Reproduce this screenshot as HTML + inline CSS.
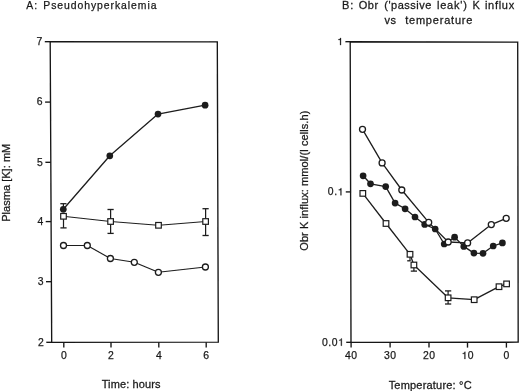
<!DOCTYPE html>
<html><head><meta charset="utf-8"><title>Pseudohyperkalemia</title><style>
html,body{margin:0;padding:0;background:#fff;}
svg{display:block;font-family:"Liberation Sans",sans-serif;}
text{fill:#1a1a1a;white-space:pre;stroke:#1a1a1a;stroke-width:0.25px;}
.g{fill:#1a1a1a;stroke:#1a1a1a;stroke-width:0.25px;}
</style></head><body>
<svg width="520" height="392" viewBox="0 0 520 392">
<defs><filter id="bl" x="0" y="0" width="1" height="1"><feGaussianBlur stdDeviation="0.3"/></filter><filter id="bt" x="0" y="0" width="1" height="1"><feGaussianBlur stdDeviation="0.42"/></filter></defs>
<rect width="520" height="392" fill="#fff"/>
<g filter="url(#bl)">
<polygon points="50.2,41.7 217.3,41.9 218.3,342.2 51.7,342.3" fill="none" stroke="#161616" stroke-width="1.35"/>
<line x1="44.8" y1="41.7" x2="50.2" y2="41.7" stroke="#161616" stroke-width="1.35"/>
<line x1="45.1" y1="102.1" x2="50.5" y2="102.1" stroke="#161616" stroke-width="1.35"/>
<line x1="45.4" y1="162.3" x2="50.8" y2="162.3" stroke="#161616" stroke-width="1.35"/>
<line x1="45.7" y1="221.6" x2="51.1" y2="221.6" stroke="#161616" stroke-width="1.35"/>
<line x1="46" y1="281.7" x2="51.4" y2="281.7" stroke="#161616" stroke-width="1.35"/>
<line x1="46.3" y1="342.3" x2="51.7" y2="342.3" stroke="#161616" stroke-width="1.35"/>
<line x1="63.8" y1="342.3" x2="63.8" y2="347.6" stroke="#161616" stroke-width="1.35"/>
<line x1="111" y1="342.3" x2="111" y2="347.6" stroke="#161616" stroke-width="1.35"/>
<line x1="158.8" y1="342.3" x2="158.8" y2="347.6" stroke="#161616" stroke-width="1.35"/>
<line x1="206.2" y1="342.3" x2="206.2" y2="347.6" stroke="#161616" stroke-width="1.35"/>
<polyline points="63.3,209.3 109.8,155.8 158,114.1 205.1,105.2" fill="none" stroke="#1c1c1c" stroke-width="1.3" stroke-linejoin="round"/>
<polyline points="63.5,216.3 110.6,221.5 158.5,225.3 205.6,221.5" fill="none" stroke="#1c1c1c" stroke-width="1.0" stroke-linejoin="round"/>
<polyline points="63.5,245.5 87.3,245.5 110.4,258.5 134.3,262.3 158.4,272.3 205.4,267" fill="none" stroke="#1c1c1c" stroke-width="1.12" stroke-linejoin="round"/>
<line x1="63.4" y1="209.3" x2="63.4" y2="203.7" stroke="#1c1c1c" stroke-width="1.2"/><line x1="60.3" y1="203.7" x2="66.5" y2="203.7" stroke="#1c1c1c" stroke-width="1.3"/>
<line x1="63.5" y1="216.3" x2="63.5" y2="227.9" stroke="#1c1c1c" stroke-width="1.2"/><line x1="60.4" y1="227.9" x2="66.6" y2="227.9" stroke="#1c1c1c" stroke-width="1.3"/>
<line x1="110.6" y1="221.5" x2="110.6" y2="209.5" stroke="#1c1c1c" stroke-width="1.2"/><line x1="107.5" y1="209.5" x2="113.7" y2="209.5" stroke="#1c1c1c" stroke-width="1.3"/>
<line x1="110.6" y1="221.5" x2="110.6" y2="233.4" stroke="#1c1c1c" stroke-width="1.2"/><line x1="107.5" y1="233.4" x2="113.7" y2="233.4" stroke="#1c1c1c" stroke-width="1.3"/>
<line x1="205.6" y1="221.5" x2="205.6" y2="208.7" stroke="#1c1c1c" stroke-width="1.2"/><line x1="202.5" y1="208.7" x2="208.7" y2="208.7" stroke="#1c1c1c" stroke-width="1.3"/>
<line x1="205.6" y1="221.5" x2="205.6" y2="235.5" stroke="#1c1c1c" stroke-width="1.2"/><line x1="202.5" y1="235.5" x2="208.7" y2="235.5" stroke="#1c1c1c" stroke-width="1.3"/>
<circle cx="63.3" cy="209.3" r="3.35" fill="#1c1c1c"/><circle cx="109.8" cy="155.8" r="3.35" fill="#1c1c1c"/><circle cx="158" cy="114.1" r="3.35" fill="#1c1c1c"/><circle cx="205.1" cy="105.2" r="3.35" fill="#1c1c1c"/>
<rect x="60.7" y="213.5" width="5.6" height="5.6" fill="#fff" stroke="#1c1c1c" stroke-width="1.2"/><rect x="107.8" y="218.7" width="5.6" height="5.6" fill="#fff" stroke="#1c1c1c" stroke-width="1.2"/><rect x="155.7" y="222.5" width="5.6" height="5.6" fill="#fff" stroke="#1c1c1c" stroke-width="1.2"/><rect x="202.8" y="218.7" width="5.6" height="5.6" fill="#fff" stroke="#1c1c1c" stroke-width="1.2"/>
<circle cx="63.5" cy="245.5" r="3" fill="#fff" stroke="#1c1c1c" stroke-width="1.3"/><circle cx="87.3" cy="245.5" r="3" fill="#fff" stroke="#1c1c1c" stroke-width="1.3"/><circle cx="110.4" cy="258.5" r="3" fill="#fff" stroke="#1c1c1c" stroke-width="1.3"/><circle cx="134.3" cy="262.3" r="3" fill="#fff" stroke="#1c1c1c" stroke-width="1.3"/><circle cx="158.4" cy="272.3" r="3" fill="#fff" stroke="#1c1c1c" stroke-width="1.3"/><circle cx="205.4" cy="267" r="3" fill="#fff" stroke="#1c1c1c" stroke-width="1.3"/>
<polygon points="350.2,41.7 517.7,42.1 518.2,342.2 351,342.3" fill="none" stroke="#161616" stroke-width="1.35"/>
<line x1="345.4" y1="41.7" x2="350.2" y2="41.7" stroke="#161616" stroke-width="1.35"/>
<line x1="345.8" y1="191.9" x2="350.6" y2="191.9" stroke="#161616" stroke-width="1.35"/>
<line x1="346.2" y1="342.3" x2="351" y2="342.3" stroke="#161616" stroke-width="1.35"/>
<line x1="351.1" y1="342.3" x2="351.1" y2="347.6" stroke="#161616" stroke-width="1.35"/>
<line x1="390.1" y1="342.3" x2="390.1" y2="347.6" stroke="#161616" stroke-width="1.35"/>
<line x1="429" y1="342.3" x2="429" y2="347.6" stroke="#161616" stroke-width="1.35"/>
<line x1="467.5" y1="342.3" x2="467.5" y2="347.6" stroke="#161616" stroke-width="1.35"/>
<line x1="506.4" y1="342.3" x2="506.4" y2="347.6" stroke="#161616" stroke-width="1.35"/>
<polyline points="362.5,129.3 382.1,162.9 401.8,190 428.7,222.4 448.2,242 467.6,242.9 491.3,224.6 506.2,218.3" fill="none" stroke="#1c1c1c" stroke-width="1.3" stroke-linejoin="round"/>
<polyline points="363.1,175.8 370.5,183.8 385.7,186.6 395.1,203.1 405.1,208.8 415,217 424.7,224.4 435.2,229 444.2,244 454.6,237.2 463.8,246.4 473.9,253.1 483,253.3 493.2,246 502.4,242.9" fill="none" stroke="#1c1c1c" stroke-width="1.3" stroke-linejoin="round"/>
<polyline points="362.8,193.4 386,223.5 410,254.3 413.9,265 448.1,297.8 474.2,299.7 499,286.7 506.6,283.9" fill="none" stroke="#1c1c1c" stroke-width="1.3" stroke-linejoin="round"/>
<line x1="410" y1="254.3" x2="410" y2="260.8" stroke="#1c1c1c" stroke-width="1.2"/><line x1="407.2" y1="260.8" x2="410.6" y2="260.8" stroke="#1c1c1c" stroke-width="1.3"/>
<line x1="413.9" y1="265" x2="413.9" y2="271.1" stroke="#1c1c1c" stroke-width="1.2"/><line x1="410.8" y1="271.1" x2="417" y2="271.1" stroke="#1c1c1c" stroke-width="1.3"/>
<line x1="448.1" y1="297.8" x2="448.1" y2="290.9" stroke="#1c1c1c" stroke-width="1.2"/><line x1="445" y1="290.9" x2="451.2" y2="290.9" stroke="#1c1c1c" stroke-width="1.3"/>
<line x1="448.1" y1="297.8" x2="448.1" y2="304" stroke="#1c1c1c" stroke-width="1.2"/><line x1="445" y1="304" x2="451.2" y2="304" stroke="#1c1c1c" stroke-width="1.3"/>
<circle cx="363.1" cy="175.8" r="3.35" fill="#1c1c1c"/><circle cx="370.5" cy="183.8" r="3.35" fill="#1c1c1c"/><circle cx="385.7" cy="186.6" r="3.35" fill="#1c1c1c"/><circle cx="395.1" cy="203.1" r="3.35" fill="#1c1c1c"/><circle cx="405.1" cy="208.8" r="3.35" fill="#1c1c1c"/><circle cx="415" cy="217" r="3.35" fill="#1c1c1c"/><circle cx="424.7" cy="224.4" r="3.35" fill="#1c1c1c"/><circle cx="435.2" cy="229" r="3.35" fill="#1c1c1c"/><circle cx="444.2" cy="244" r="3.35" fill="#1c1c1c"/><circle cx="454.6" cy="237.2" r="3.35" fill="#1c1c1c"/><circle cx="463.8" cy="246.4" r="3.35" fill="#1c1c1c"/><circle cx="473.9" cy="253.1" r="3.35" fill="#1c1c1c"/><circle cx="483" cy="253.3" r="3.35" fill="#1c1c1c"/><circle cx="493.2" cy="246" r="3.35" fill="#1c1c1c"/><circle cx="502.4" cy="242.9" r="3.35" fill="#1c1c1c"/>
<circle cx="362.5" cy="129.3" r="3" fill="#fff" stroke="#1c1c1c" stroke-width="1.3"/><circle cx="382.1" cy="162.9" r="3" fill="#fff" stroke="#1c1c1c" stroke-width="1.3"/><circle cx="401.8" cy="190" r="3" fill="#fff" stroke="#1c1c1c" stroke-width="1.3"/><circle cx="428.7" cy="222.4" r="3" fill="#fff" stroke="#1c1c1c" stroke-width="1.3"/><circle cx="448.2" cy="242" r="3" fill="#fff" stroke="#1c1c1c" stroke-width="1.3"/><circle cx="467.6" cy="242.9" r="3" fill="#fff" stroke="#1c1c1c" stroke-width="1.3"/><circle cx="491.3" cy="224.6" r="3" fill="#fff" stroke="#1c1c1c" stroke-width="1.3"/><circle cx="506.2" cy="218.3" r="3" fill="#fff" stroke="#1c1c1c" stroke-width="1.3"/>
<rect x="360" y="190.6" width="5.6" height="5.6" fill="#fff" stroke="#1c1c1c" stroke-width="1.2"/><rect x="383.2" y="220.7" width="5.6" height="5.6" fill="#fff" stroke="#1c1c1c" stroke-width="1.2"/><rect x="407.2" y="251.5" width="5.6" height="5.6" fill="#fff" stroke="#1c1c1c" stroke-width="1.2"/><rect x="411.1" y="262.2" width="5.6" height="5.6" fill="#fff" stroke="#1c1c1c" stroke-width="1.2"/><rect x="445.3" y="295" width="5.6" height="5.6" fill="#fff" stroke="#1c1c1c" stroke-width="1.2"/><rect x="471.4" y="296.9" width="5.6" height="5.6" fill="#fff" stroke="#1c1c1c" stroke-width="1.2"/><rect x="496.2" y="283.9" width="5.6" height="5.6" fill="#fff" stroke="#1c1c1c" stroke-width="1.2"/><rect x="503.8" y="281.1" width="5.6" height="5.6" fill="#fff" stroke="#1c1c1c" stroke-width="1.2"/>
</g>
<g filter="url(#bt)">
<text x="36.52" y="45" font-size="10.4">7</text>
<text x="36.82" y="105.4" font-size="10.4">6</text>
<text x="37.12" y="165.6" font-size="10.4">5</text>
<text x="37.41" y="224.9" font-size="10.4">4</text>
<text x="37.71" y="285" font-size="10.4">3</text>
<text x="38.02" y="345.6" font-size="10.4">2</text>
<text x="60.91" y="358.7" font-size="10.4">0</text>
<text x="108.11" y="358.7" font-size="10.4">2</text>
<text x="155.91" y="358.7" font-size="10.4">4</text>
<text x="203.31" y="358.7" font-size="10.4">6</text>
<text font-size="10.4" letter-spacing="1.000" transform="translate(26.2 9) scale(1.0 1)">A:</text>
<text font-size="10.4" letter-spacing="0.950" transform="translate(43.25 9) scale(1.0 1)">Pseudohyperkalemia</text>
<text font-size="10.4" letter-spacing="0.106" transform="translate(101.64 388.3) scale(1.06 1)">Time: hours</text>
<text font-size="10.4" letter-spacing="0.025" transform="translate(9.7 221.79) rotate(-90) scale(1.06 1)">Plasma [K]: mM</text>
<polygon class="g" points="340.11,45.1 341,45.1 341,37.94 340.29,37.94 340.16,38.35 339.86,38.9 339.25,39.21 338.39,39.36 338.39,39.97 340.11,39.97"/>
<text x="327.84" y="195.3" font-size="10.4">0</text><text x="334.13" y="195.3" font-size="10.4">.</text><polygon class="g" points="340.51,195.3 341.4,195.3 341.4,188.14 340.69,188.14 340.56,188.55 340.26,189.1 339.65,189.41 338.79,189.56 338.79,190.17 340.51,190.17"/>
<text x="321.96" y="345.7" font-size="10.4">0</text><text x="328.24" y="345.7" font-size="10.4">.</text><text x="331.63" y="345.7" font-size="10.4">0</text><polygon class="g" points="340.91,345.7 341.8,345.7 341.8,338.54 341.09,338.54 340.96,338.95 340.66,339.5 340.05,339.81 339.19,339.96 339.19,340.57 340.91,340.57"/>
<text x="345.07" y="359" font-size="10.4">4</text><text x="351.35" y="359" font-size="10.4">0</text>
<text x="384.07" y="359" font-size="10.4">3</text><text x="390.35" y="359" font-size="10.4">0</text>
<text x="422.97" y="359" font-size="10.4">2</text><text x="429.25" y="359" font-size="10.4">0</text>
<polygon class="g" points="464.46,359 465.35,359 465.35,351.84 464.64,351.84 464.51,352.25 464.21,352.8 463.6,353.11 462.74,353.26 462.74,353.87 464.46,353.87"/><text x="467.75" y="359" font-size="10.4">0</text>
<text x="503.51" y="359" font-size="10.4">0</text>
<text font-size="10.4" letter-spacing="0.807" transform="translate(342 8.7) scale(1.06 1)">B:</text>
<text font-size="10.4" letter-spacing="0.587" transform="translate(358.67 8.7) scale(1.06 1)">Obr</text>
<text font-size="10.4" letter-spacing="0.463" transform="translate(384.31 8.7) scale(1.06 1)">('passive</text>
<text font-size="10.4" letter-spacing="0.727" transform="translate(437 8.7) scale(1.06 1)">leak')</text>
<text font-size="10.4" letter-spacing="0.000" transform="translate(472.4 8.7) scale(1.06 1)">K</text>
<text font-size="10.4" letter-spacing="0.671" transform="translate(484.9 8.7) scale(1.06 1)">influx</text>
<text font-size="10.4" letter-spacing="0.472" transform="translate(384.6 23.5) scale(1.06 1)">vs</text>
<text font-size="10.4" letter-spacing="0.749" transform="translate(405.13 23.5) scale(1.06 1)">temperature</text>
<text font-size="10.4" letter-spacing="0.182" transform="translate(388.63 388.9) scale(1.06 1)">Temperature: °C</text>
<text font-size="10.4" letter-spacing="0.079" transform="translate(308 250.73) rotate(-90) scale(1.06 1)">Obr K influx: mmol/(l cells.h)</text>
</g>
</svg>
</body></html>
